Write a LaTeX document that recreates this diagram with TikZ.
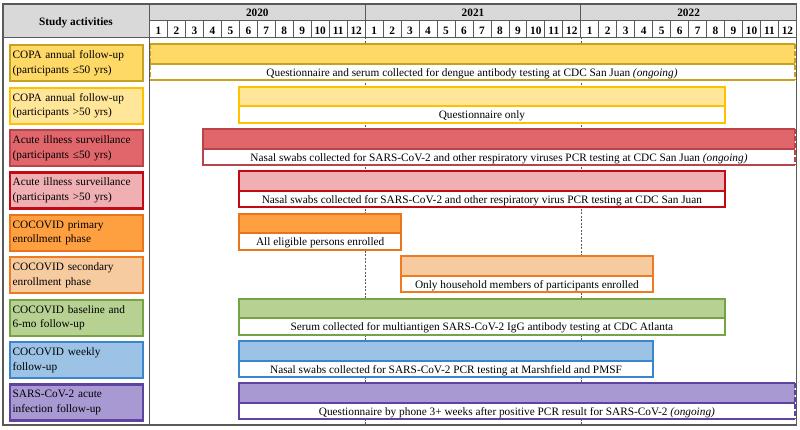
\documentclass[tikz,border=0pt]{standalone}
\usepackage{fontspec}
\setmainfont{Liberation Serif}

\definecolor{gridline}{HTML}{595959}
\definecolor{headgray}{HTML}{D9D9D9}
\definecolor{fillcopaA}{HTML}{FFD966}  \definecolor{linecopaA}{HTML}{C9A020}
\definecolor{fillcopaB}{HTML}{FFE699}  \definecolor{linecopaB}{HTML}{FFC000}
\definecolor{fillacuteA}{HTML}{E0666B} \definecolor{lineacuteA}{HTML}{B9454B}
\definecolor{fillacuteB}{HTML}{F0B0B3} \definecolor{lineacuteB}{HTML}{C00A14}
\definecolor{fillprim}{HTML}{FFA040}   \definecolor{lineprim}{HTML}{E8741E}
\definecolor{fillsec}{HTML}{F6CBA0}    \definecolor{linesec}{HTML}{EE7B22}
\definecolor{fillbase}{HTML}{B6D192}   \definecolor{linebase}{HTML}{76A445}
\definecolor{fillweek}{HTML}{9CC3E5}   \definecolor{lineweek}{HTML}{3A85CC}
\definecolor{fillsars}{HTML}{A899D3}   \definecolor{linesars}{HTML}{5E43A0}

\tikzset{
  actbox/.style={draw, line width=2.2pt, anchor=north west, minimum width=132.5pt,
    minimum height=36pt, text width=127.5pt, inner xsep=2.5pt, align=left,
    font=\fontsize{11.3}{14.5}\selectfont},
  bartext/.style={anchor=base, inner sep=0pt, font=\fontsize{11.3}{13}\selectfont},
  headtext/.style={anchor=base, inner sep=0pt, font=\fontsize{11.3}{13}\selectfont\bfseries},
  barline/.style={line width=2pt},
  openend/.style={line width=2pt, dash pattern=on 5pt off 2pt},
  yearline/.style={gridline, line width=0.6pt, dash pattern=on 2pt off 1.5pt}
}

\begin{document}
\begin{tikzpicture}[x=1pt, y=-1pt]
\useasboundingbox (0,0) rectangle (800,429);

% header
\fill [headgray] (3,4) rectangle (149.5,37);
\fill [headgray] (149.5,4) rectangle (796.5,20);
\draw [gridline, line width=0.8pt] (149.5,20) -- (796.5,20);
\draw [gridline, line width=0.8pt] (3,37) -- (796.5,37);
\foreach \k in {1,...,35}
  \draw [gridline, line width=0.8pt] ({149.5+\k*17.97},20) -- ({149.5+\k*17.97},37);
\draw [gridline, line width=0.8pt] (365.1,4) -- (365.1,37) (580.8,4) -- (580.8,37);

\node [headtext] (study) at (76,25.5) {Study activities};
\node [headtext] (y2020) at (257.3,16.5) {2020};
\node [headtext] (y2021) at (473.0,16.5) {2021};
\node [headtext] (y2022) at (688.6,16.5) {2022};
\foreach \yr in {0,1,2} {
  \foreach \m in {1,...,12}
    \node [headtext] (m\yr-\m) at ({149.5+(\yr*12+\m-0.5)*17.97},34.5) {\m};
}

% year boundaries
\draw [yearline] (365.1,37) -- (365.1,425);
\draw [yearline] (580.8,37) -- (580.8,425);

% study activities
\node [actbox, fill=fillcopaA, draw=linecopaA] (act1) at (9,44.2) {COPA annual follow-up\\(participants ≤50 yrs)};
\node [actbox, fill=fillcopaB, draw=linecopaB] (act2) at (9,86.6) {COPA annual follow-up\\(participants >50 yrs)};
\node [actbox, fill=fillacuteA, draw=lineacuteA] (act3) at (9,129.0) {Acute illness surveillance\\(participants ≤50 yrs)};
\node [actbox, fill=fillacuteB, draw=lineacuteB] (act4) at (9,171.4) {Acute illness surveillance\\(participants >50 yrs)};
\node [actbox, fill=fillprim, draw=lineprim] (act5) at (9,213.8) {COCOVID primary\\enrollment phase};
\node [actbox, fill=fillsec, draw=linesec] (act6) at (9,256.2) {COCOVID secondary\\enrollment phase};
\node [actbox, fill=fillbase, draw=linebase] (act7) at (9,298.6) {COCOVID baseline and\\6-mo follow-up};
\node [actbox, fill=fillweek, draw=lineweek] (act8) at (9,341.0) {COCOVID weekly\\follow-up};
\node [actbox, fill=fillsars, draw=linesars] (act9) at (9,383.4) {SARS-CoV-2 acute\\infection follow-up};

% bars
\fill [fillcopaA] (149.5,44.2) rectangle (794.5,63.7);
\fill [white] (149.5,63.7) rectangle (794.5,80.2);
\draw [barline, linecopaA] (149.5,44.2) -- (794.5,44.2) (149.5,63.7) -- (794.5,63.7) (149.5,80.2) -- (794.5,80.2);
\draw [openend, linecopaA] (149.5,44.2) -- (149.5,80.2) (794.5,44.2) -- (794.5,80.2);
\node [bartext] (bar1) at (472,76.2) {Questionnaire and serum collected for dengue antibody testing at CDC San Juan \textit{(ongoing)}};

\filldraw [barline, fill=fillcopaB, draw=linecopaB] (239.35,86.6) rectangle (724.5,106.1);
\filldraw [barline, fill=white, draw=linecopaB] (239.35,106.1) rectangle (724.5,122.6);
\node [bartext] (bar2) at (481.9,118.6) {Questionnaire only};

\fill [fillacuteA] (203.4,129.0) rectangle (794.5,148.5);
\fill [white] (203.4,148.5) rectangle (794.5,165.0);
\draw [barline, lineacuteA] (794.5,129.0) -- (203.4,129.0) -- (203.4,165.0) -- (794.5,165.0) (203.4,148.5) -- (794.5,148.5);
\draw [openend, lineacuteA] (794.5,129.0) -- (794.5,165.0);
\node [bartext] (bar3) at (499,161.0) {Nasal swabs collected for SARS-CoV-2 and other respiratory viruses PCR testing at CDC San Juan \textit{(ongoing)}};

\filldraw [barline, fill=fillacuteB, draw=lineacuteB] (239.35,171.4) rectangle (724.5,190.9);
\filldraw [barline, fill=white, draw=lineacuteB] (239.35,190.9) rectangle (724.5,207.4);
\node [bartext] (bar4) at (481.9,203.4) {Nasal swabs collected for SARS-CoV-2 and other respiratory virus PCR testing at CDC San Juan};

\filldraw [barline, fill=fillprim, draw=lineprim] (239.35,213.8) rectangle (401.1,233.3);
\filldraw [barline, fill=white, draw=lineprim] (239.35,233.3) rectangle (401.1,249.8);
\node [bartext] (bar5) at (320.2,245.8) {All eligible persons enrolled};

\filldraw [barline, fill=fillsec, draw=linesec] (401.1,256.2) rectangle (652.7,275.7);
\filldraw [barline, fill=white, draw=linesec] (401.1,275.7) rectangle (652.7,292.2);
\node [bartext] (bar6) at (526.9,288.2) {Only household members of participants enrolled};

\filldraw [barline, fill=fillbase, draw=linebase] (239.35,298.6) rectangle (724.5,318.1);
\filldraw [barline, fill=white, draw=linebase] (239.35,318.1) rectangle (724.5,334.6);
\node [bartext] (bar7) at (481.9,330.6) {Serum collected for multiantigen SARS-CoV-2 IgG antibody testing at CDC Atlanta};

\filldraw [barline, fill=fillweek, draw=lineweek] (239.35,341.0) rectangle (652.7,360.5);
\filldraw [barline, fill=white, draw=lineweek] (239.35,360.5) rectangle (652.7,377.0);
\node [bartext] (bar8) at (446.0,373.0) {Nasal swabs collected for SARS-CoV-2 PCR testing at Marshfield and PMSF};

\fill [fillsars] (239.35,383.4) rectangle (794.5,402.9);
\fill [white] (239.35,402.9) rectangle (794.5,419.4);
\draw [barline, linesars] (794.5,383.4) -- (239.35,383.4) -- (239.35,419.4) -- (794.5,419.4) (239.35,402.9) -- (794.5,402.9);
\draw [openend, linesars] (794.5,383.4) -- (794.5,419.4);
\node [bartext] (bar9) at (516.9,415.4) {Questionnaire by phone 3+ weeks after positive PCR result for SARS-CoV-2 \textit{(ongoing)}};

% frame
\draw [gridline, line width=0.9pt] (149.5,4) -- (149.5,425);
\draw [gridline, line width=1.3pt] (3,4) rectangle (796.5,425);

\end{tikzpicture}
\end{document}
